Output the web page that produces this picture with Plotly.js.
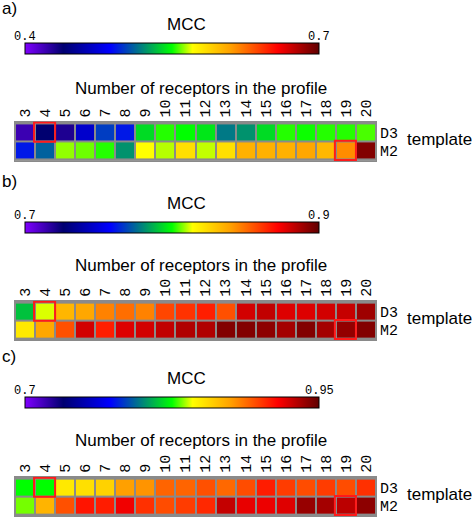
<!DOCTYPE html>
<html>
<head>
<meta charset="utf-8">
<script src="https://cdn.plot.ly/plotly-3.0.1.min.js"></script>
<style>html,body{margin:0;padding:0;background:#fff;}#chart{width:472px;height:518px;}</style>
</head>
<body>
<div id="chart"></div>
<script>
// ---------- data ----------
const receptors = ['3','4','5','6','7','8','9','10','11','12','13','14','15','16','17','18','19','20'];
const templates = ['D3','M2'];

// panel a) MCC range 0.4 - 0.7
const rangeA = [0.4, 0.7];
const mccA_D3 = [0.421,0.439,0.430,0.470,0.502,0.493,0.541,0.553,0.550,0.544,0.517,0.523,0.541,0.553,0.551,0.553,0.553,0.556];
const mccA_M2 = [0.493,0.511,0.562,0.559,0.553,0.523,0.571,0.565,0.584,0.566,0.584,0.603,0.603,0.603,0.607,0.600,0.616,0.691];

// panel b) MCC range 0.7 - 0.9
const rangeB = [0.7, 0.9];
const mccB_D3 = [0.790,0.812,0.834,0.838,0.846,0.850,0.846,0.858,0.862,0.866,0.856,0.880,0.883,0.878,0.878,0.880,0.882,0.889];
const mccB_M2 = [0.820,0.838,0.856,0.880,0.866,0.878,0.880,0.883,0.886,0.886,0.894,0.894,0.892,0.888,0.894,0.888,0.891,0.894];

// panel c) MCC range 0.7 - 0.95
const rangeC = [0.7, 0.95];
const mccC_D3 = [0.825,0.825,0.850,0.853,0.858,0.875,0.878,0.890,0.890,0.895,0.889,0.896,0.908,0.900,0.896,0.900,0.896,0.903];
const mccC_M2 = [0.833,0.868,0.895,0.910,0.908,0.918,0.903,0.896,0.900,0.905,0.928,0.920,0.919,0.922,0.938,0.935,0.930,0.940];

const panelLabels = ['a)','b)','c)'];
const barTitle = 'MCC';
const xTitle = 'Number of receptors in the profile';
const yTitle = 'template';
// highlighted cells (same in every panel)
const highlights = [{x:'4', y:'D3'}, {x:'19', y:'M2'}];

// ---------- styling / layout ----------
const W = 472, H = 518;
const px = v => v / W;
const py = v => 1 - v / H;

const colorscale = [
  [0.00,'#8000ff'],[0.13,'#000070'],[0.29,'#0000ff'],[0.50,'#00ff00'],
  [0.57,'#ffff00'],[0.70,'#ffa000'],[0.86,'#ff0000'],[1.00,'#600000']
];

const panels = [
  {range: rangeA, d3: mccA_D3, m2: mccA_M2, hmTop: 121.5, cbTop: 43,  titleY: 88,  labelY: 9},
  {range: rangeB, d3: mccB_D3, m2: mccB_M2, hmTop: 300.7, cbTop: 222, titleY: 265, labelY: 181},
  {range: rangeC, d3: mccC_D3, m2: mccC_M2, hmTop: 476.7, cbTop: 397, titleY: 440, labelY: 356}
];
const cellH = 19.7;
const hmLeft = 15, hmRight = 376;
const cbLeft = 25, cbLen = 294, cbThick = 11;

const sans = 'Liberation Sans, Arial, sans-serif';
const mono = 'Liberation Mono, Courier New, monospace';

const data = [];
const layout = {
  width: W, height: H,
  margin: {l:0, r:0, t:0, b:0},
  paper_bgcolor: '#ffffff',
  plot_bgcolor: '#8a8a8a',
  showlegend: false,
  annotations: [],
  shapes: []
};

panels.forEach((p, i) => {
  const n = i === 0 ? '' : String(i + 1);
  const xa = 'x' + n, ya = 'y' + n;
  data.push({
    type: 'heatmap',
    x: receptors,
    y: templates,
    z: [p.d3, p.m2],
    xaxis: xa, yaxis: ya,
    zmin: p.range[0], zmax: p.range[1],
    colorscale: colorscale,
    xgap: 2, ygap: 2,
    colorbar: {
      orientation: 'h',
      x: px(cbLeft), xanchor: 'left',
      y: py(p.cbTop), yanchor: 'top',
      len: cbLen, lenmode: 'pixels',
      thickness: cbThick, thicknessmode: 'pixels',
      xpad: 0, ypad: 0,
      outlinecolor: '#000', outlinewidth: 1,
      showticklabels: false, ticks: ''
    }
  });
  const top = p.hmTop, bot = p.hmTop + 2 * cellH;
  layout['xaxis' + n] = {
    domain: [px(hmLeft), px(hmRight)],
    anchor: ya, side: 'top', type: 'category',
    tickangle: -90, ticks: '', tickmode: 'linear', tick0: 0, dtick: 1,
    tickfont: {family: mono, size: 15, color: '#000'},
    showgrid: false, zeroline: false,
    showline: true, linecolor: '#8a8a8a', linewidth: 1, mirror: true,
    fixedrange: true
  };
  layout['yaxis' + n] = {
    domain: [py(bot), py(top)],
    anchor: xa, side: 'right', type: 'category',
    autorange: 'reversed', ticks: '',
    tickfont: {family: mono, size: 15, color: '#000'},
    showgrid: false, zeroline: false,
    showline: true, linecolor: '#8a8a8a', linewidth: 1, mirror: true,
    fixedrange: true
  };
  layout.annotations.push(
    {text: panelLabels[i], xref:'paper', yref:'paper', x: 0, y: py(p.labelY), xanchor:'left', yanchor:'middle', showarrow:false, font:{family:sans, size:17, color:'#000'}},
    {text: barTitle, xref:'paper', yref:'paper', x: px(186), y: py(p.cbTop - 19), xanchor:'center', yanchor:'middle', showarrow:false, font:{family:sans, size:17, color:'#000'}},
    {text: String(p.range[0]), xref:'paper', yref:'paper', x: px(cbLeft), y: py(p.cbTop - 6), xanchor:'center', yanchor:'middle', showarrow:false, font:{family:mono, size:12, color:'#000'}},
    {text: String(p.range[1]), xref:'paper', yref:'paper', x: px(cbLeft + cbLen), y: py(p.cbTop - 6), xanchor:'center', yanchor:'middle', showarrow:false, font:{family:mono, size:12, color:'#000'}},
    {text: xTitle, xref:'paper', yref:'paper', x: px(201), y: py(p.titleY), xanchor:'center', yanchor:'middle', showarrow:false, font:{family:sans, size:17, color:'#000'}},
    {text: yTitle, xref:'paper', yref:'paper', x: px(405), y: py(top + 18), xanchor:'left', yanchor:'middle', showarrow:false, font:{family:sans, size:17, color:'#000'}}
  );
  highlights.forEach(h => {
    const xi = receptors.indexOf(h.x), yi = templates.indexOf(h.y);
    layout.shapes.push({
      type:'rect', xref: xa, yref: ya,
      x0: xi - 0.55, x1: xi + 0.5, y0: yi - 0.55, y1: yi + 0.5,
      line: {color:'#ff1a1a', width: 2}, fillcolor:'rgba(0,0,0,0)'
    });
  });
});

Plotly.newPlot('chart', data, layout, {displayModeBar: false, staticPlot: true});
</script>
</body>
</html>
